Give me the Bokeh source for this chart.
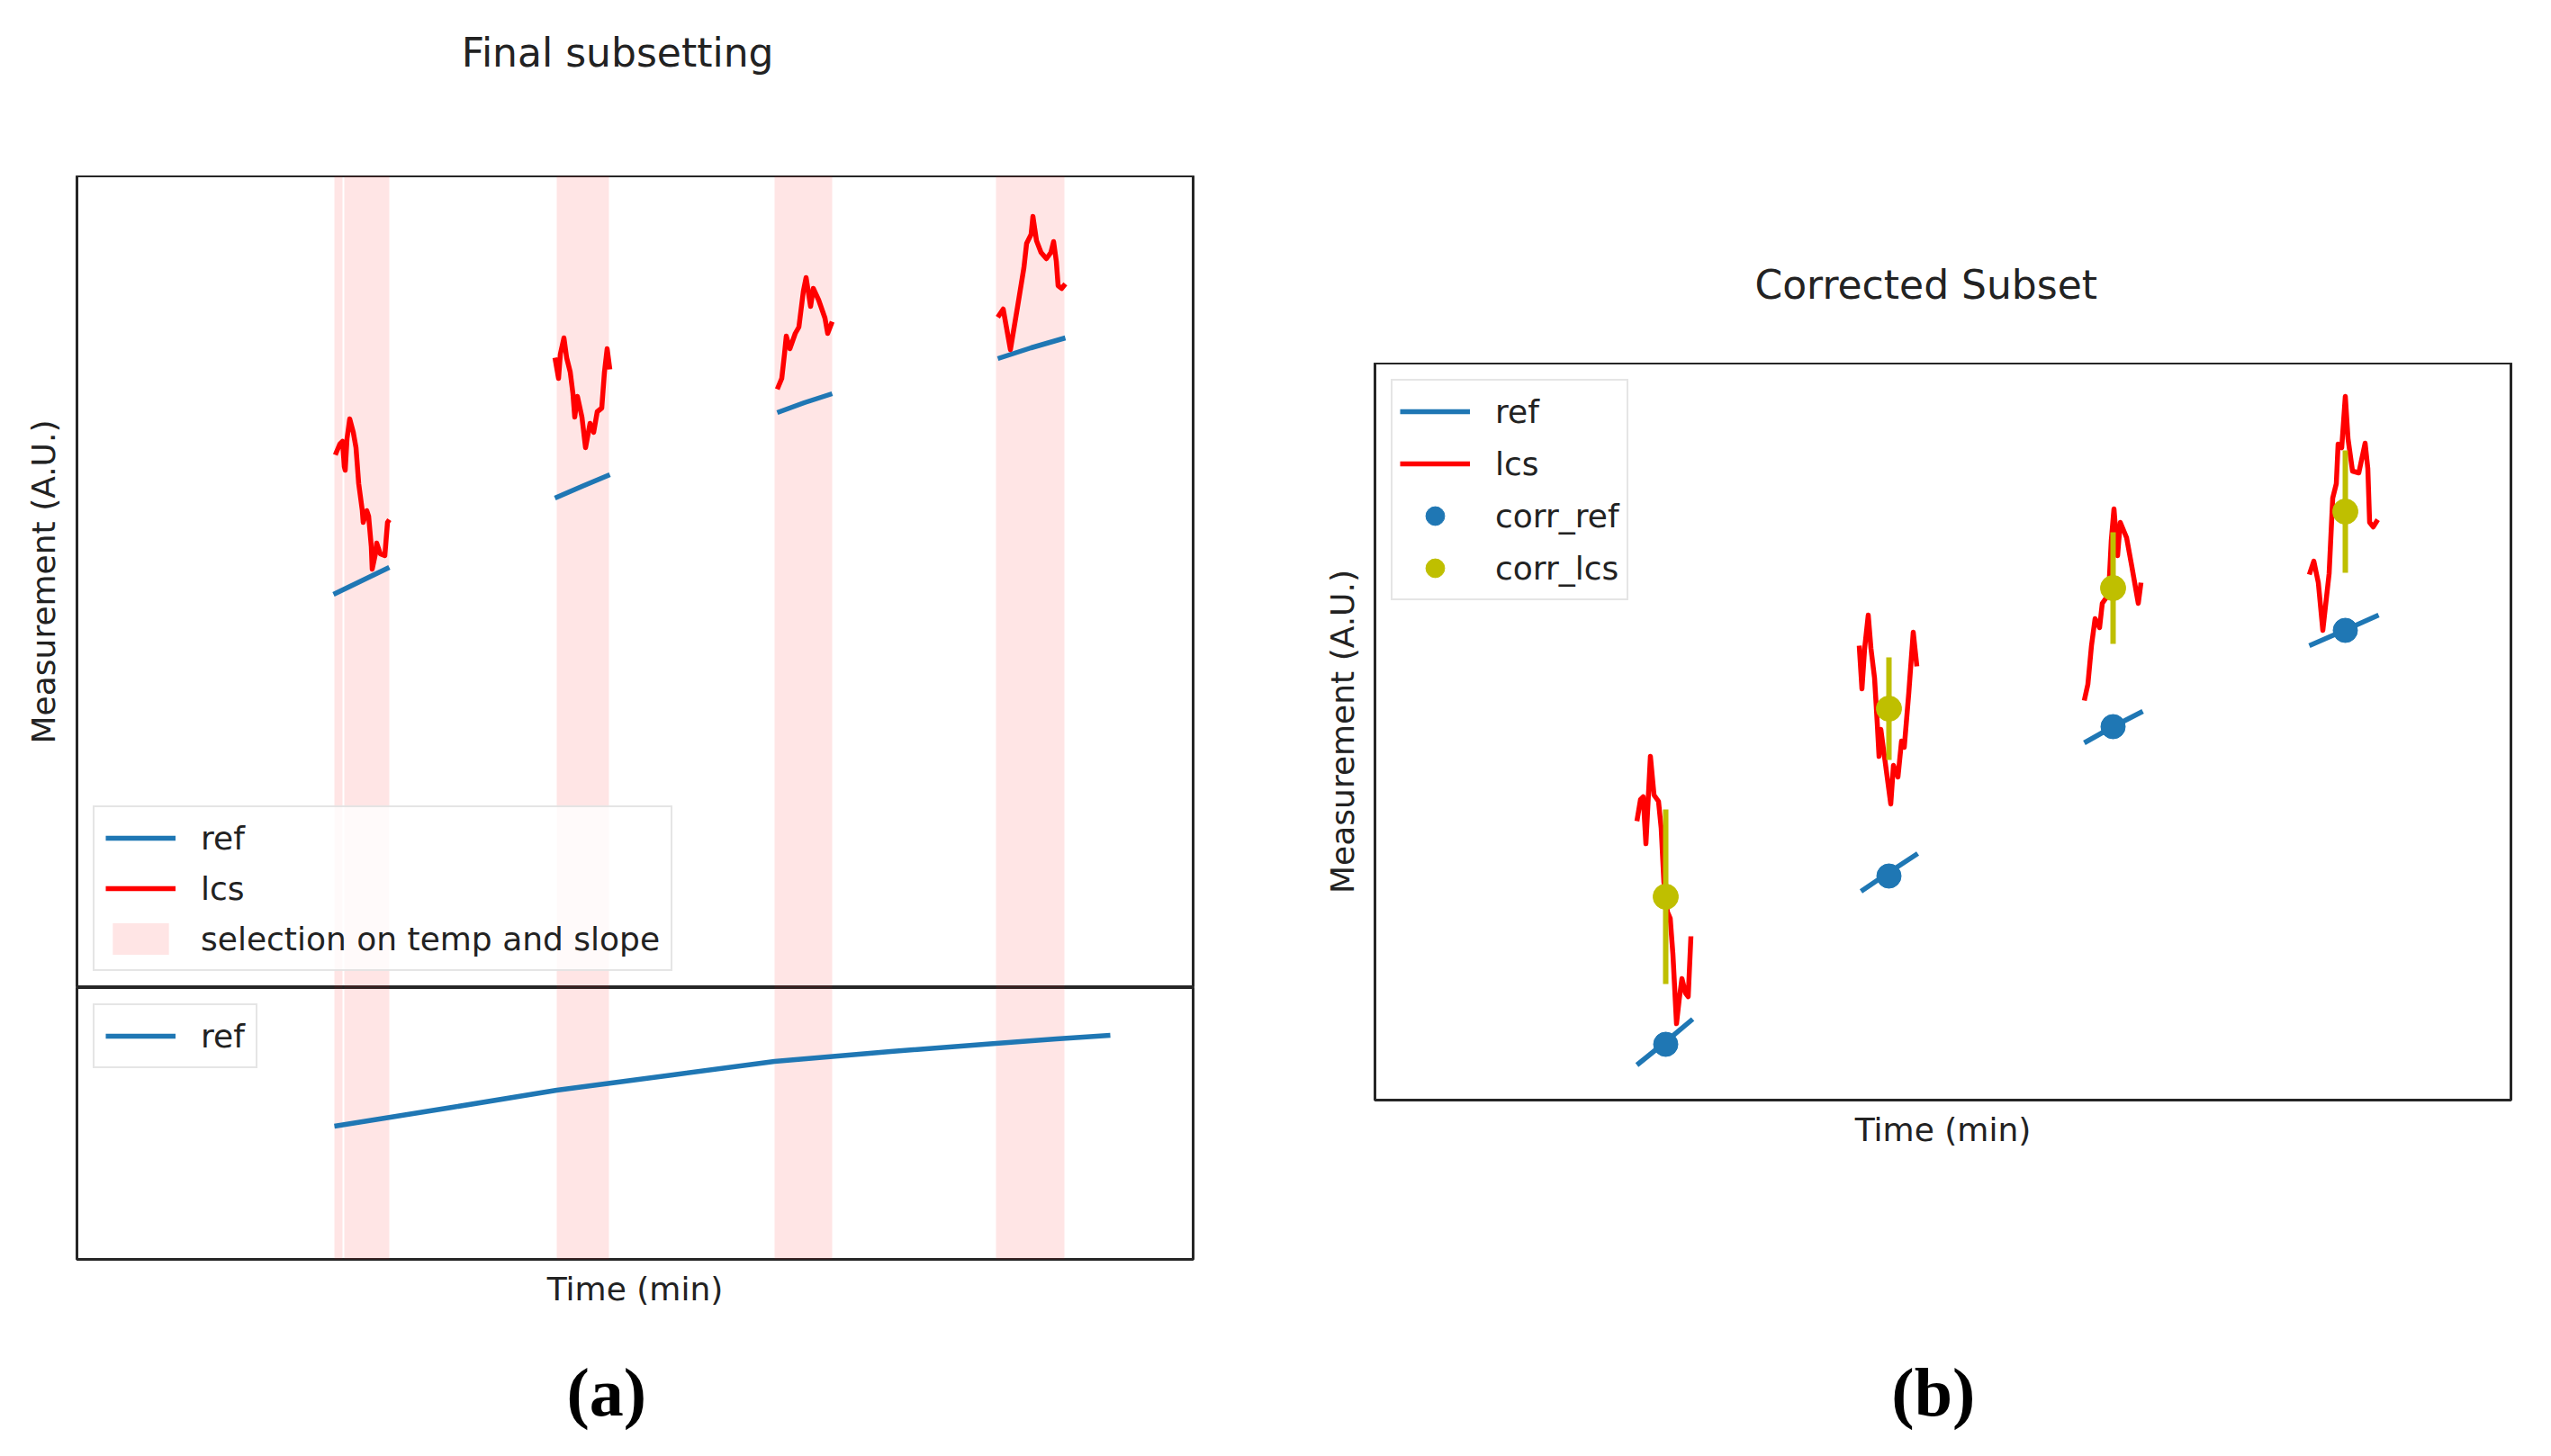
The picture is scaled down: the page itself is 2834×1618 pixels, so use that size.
from bokeh.plotting import figure
from bokeh.models import Legend, LegendItem, Label, Range1d
from bokeh.layouts import row, column
from bokeh.embed import file_html
from bokeh.resources import INLINE

# ---------------- data ----------------
# Panel (a): "Final subsetting"
a_time_range = (0, 1240)        # Time (min)
a_meas_range = (0, 902)         # Measurement (A.U.), upper axes
a_ref_range = (0, 302)          # lower axes (full ref series)

sel_start = [286, 297, 533, 775, 1021]
sel_end = [295, 347, 591, 839, 1097]

a_lcs_t = [
    [287, 292, 295, 297, 298, 300, 303, 307, 310, 313, 317, 318, 322, 324, 327, 328, 332, 333, 337, 342, 345, 347],
    [531, 535, 537, 541, 544, 548, 551, 553, 556, 561, 565, 570, 574, 578, 583, 586, 589, 592],
    [778, 783, 786, 788, 792, 798, 802, 807, 810, 815, 818, 824, 831, 834, 839],
    [1023, 1029, 1037, 1045, 1052, 1055, 1060, 1062, 1066, 1071, 1077, 1082, 1085, 1088, 1090, 1094, 1098],
]
a_lcs_v = [
    [592, 604, 607, 579, 575, 610, 632, 617, 600, 560, 530, 517, 530, 524, 490, 465, 484, 494, 482, 480, 517, 520],
    [700, 677, 704, 722, 700, 684, 660, 634, 657, 634, 600, 627, 617, 640, 644, 684, 710, 687],
    [665, 677, 704, 724, 710, 727, 734, 774, 789, 757, 777, 764, 744, 727, 740],
    [745, 754, 709, 757, 800, 827, 837, 857, 830, 817, 810, 817, 829, 807, 780, 777, 782],
]
a_ref_t = [[285, 316, 347], [531, 561, 592], [778, 808, 839], [1023, 1060, 1098]]
a_ref_v = [[437, 452, 467], [544, 557, 570], [639, 650, 660], [699, 711, 722]]

ref_full_t = [286, 417, 533, 662, 775, 904, 1021, 1088, 1148]
ref_full_v = [148, 169, 188, 205, 220, 231, 240, 245, 249]

# Panel (b): "Corrected Subset"
b_time_range = (0, 1262)
b_meas_range = (0, 819)

b_lcs_t = [
    [291, 295, 298, 301, 306, 310, 315, 318, 321, 325, 328, 331, 335, 338, 341, 345, 348, 351],
    [538, 541, 544, 548, 551, 555, 558, 560, 562, 566, 573, 576, 581, 585, 588, 593, 598, 602],
    [788, 792, 796, 800, 805, 808, 815, 818, 821, 825, 828, 835, 841, 848, 851],
    [1038, 1043, 1048, 1053, 1060, 1064, 1068, 1070, 1074, 1078, 1081, 1086, 1093, 1100, 1103, 1105, 1109, 1114],
]
b_lcs_v = [
    [310, 334, 337, 285, 382, 339, 332, 302, 242, 209, 202, 162, 85, 112, 135, 119, 115, 182],
    [505, 457, 502, 539, 502, 469, 419, 382, 412, 382, 329, 372, 359, 399, 392, 452, 520, 482],
    [444, 462, 505, 535, 525, 552, 562, 622, 657, 605, 642, 625, 592, 552, 575],
    [584, 599, 575, 522, 585, 669, 685, 729, 725, 782, 735, 699, 697, 730, 702, 642, 637, 645],
]
b_ref_t = [[291, 322, 353], [540, 571, 603], [788, 820, 853], [1038, 1077, 1115]]
b_ref_v = [[39, 64, 90], [232, 253, 274], [397, 415, 432], [505, 522, 539]]

corr_t = [323, 571, 820, 1078]
corr_ref = [62, 249, 415, 522]
corr_lcs = [226, 435, 569, 654]
corr_lcs_std = [97, 57, 62, 68]

# ---------------- style ----------------
BLUE = "#1f77b4"
RED = "#ff0000"
OLIVE = "#bfbf00"
TXT = "#222222"
FONT = "DejaVu Sans"
LW = 5.5


def base_style(p):
    p.outline_line_color = "#262626"
    p.outline_line_width = 3
    p.grid.visible = False
    p.background_fill_color = "white"
    p.border_fill_color = "white"


def style_axis(ax, label, standoff):
    ax.ticker = []
    ax.axis_line_color = None
    ax.major_tick_line_color = None
    ax.minor_tick_line_color = None
    ax.major_tick_out = 0
    ax.major_tick_in = 0
    ax.minor_tick_out = 0
    ax.major_label_standoff = 0
    ax.axis_label = label
    ax.axis_label_standoff = standoff
    ax.axis_label_text_font = FONT
    ax.axis_label_text_font_size = "36px"
    ax.axis_label_text_font_style = "normal"
    ax.axis_label_text_color = TXT


def text_strip(width, height):
    """A bare strip (no axes, no outline) used to hold titles / panel tags."""
    p = figure(width=width, height=height, output_backend="svg", toolbar_location=None,
               x_range=Range1d(0, width), y_range=Range1d(0, height),
               x_axis_location=None, y_axis_location=None, min_border=0)
    p.grid.visible = False
    p.outline_line_color = None
    p.background_fill_color = "white"
    p.border_fill_color = "white"
    return p


def title_label(text, x, y):
    return Label(x=x, y=y, text=text, text_align="center", text_baseline="middle",
                 text_font=FONT, text_font_size="44px", text_color=TXT)


def panel_label(text, x, y):
    return Label(x=x, y=y, text=text, text_align="center", text_baseline="middle",
                 text_font="Liberation Serif", text_font_style="bold",
                 text_font_size="76px", text_color="black")


def make_legend(items, location, glyph_height=44, spacing=12, padding=12):
    return Legend(
        items=items, location=location, margin=18, padding=padding, spacing=spacing,
        glyph_width=78, glyph_height=glyph_height, label_standoff=28,
        label_text_font=FONT, label_text_font_size="36px", label_text_color=TXT,
        border_line_color="#cccccc", border_line_width=2,
        background_fill_color="white", background_fill_alpha=0.8,
    )


# ---------------- panel (a) ----------------
head_a = text_strip(1408, 195)
head_a.add_layout(title_label("Final subsetting", 682, 137))

top_a = figure(
    width=1408, height=902, output_backend="svg", toolbar_location=None,
    x_range=Range1d(*a_time_range), y_range=Range1d(*a_meas_range),
    x_axis_location=None,
    min_border_left=85, min_border_right=83, min_border_top=0, min_border_bottom=0,
)
base_style(top_a)
style_axis(top_a.yaxis[0], "Measurement (A.U.)", 17)

r_sel = top_a.quad(left=sel_start, right=sel_end,
                   bottom=[a_meas_range[0]] * len(sel_start), top=[a_meas_range[1]] * len(sel_start),
                   fill_color=RED, fill_alpha=0.1, line_color=None)
r_ref = top_a.multi_line(a_ref_t, a_ref_v, line_color=BLUE, line_width=LW, line_join="round")
r_lcs = top_a.multi_line(a_lcs_t, a_lcs_v, line_color=RED, line_width=LW, line_join="round")

top_a.add_layout(make_legend([
    LegendItem(label="ref", renderers=[r_ref]),
    LegendItem(label="lcs", renderers=[r_lcs]),
    LegendItem(label="selection on temp and slope", renderers=[r_sel]),
], "bottom_left"))

bot_a = figure(
    width=1408, height=372, output_backend="svg", toolbar_location=None,
    x_range=top_a.x_range, y_range=Range1d(*a_ref_range),
    y_axis_location=None,
    min_border_left=85, min_border_right=83, min_border_top=0, min_border_bottom=70,
)
base_style(bot_a)
style_axis(bot_a.xaxis[0], "Time (min)", 12)
bot_a.quad(left=sel_start, right=sel_end,
           bottom=[a_ref_range[0]] * len(sel_start), top=[a_ref_range[1]] * len(sel_start),
           fill_color=RED, fill_alpha=0.1, line_color=None)
r_ref2 = bot_a.line(ref_full_t, ref_full_v, line_color=BLUE, line_width=LW, line_join="round")
bot_a.add_layout(make_legend([LegendItem(label="ref", renderers=[r_ref2])], "top_left"))

foot_a = text_strip(1408, 135)
foot_a.add_layout(panel_label("(a)", 668, 58))

# ---------------- panel (b) ----------------
head_b = text_strip(1414, 403)
head_b.add_layout(title_label("Corrected Subset", 686, 87))

fig_b = figure(
    width=1414, height=889, output_backend="svg", toolbar_location=None,
    x_range=Range1d(*b_time_range), y_range=Range1d(*b_meas_range),
    min_border_left=119, min_border_right=33, min_border_top=0, min_border_bottom=70,
)
base_style(fig_b)
style_axis(fig_b.xaxis[0], "Time (min)", 12)
style_axis(fig_b.yaxis[0], "Measurement (A.U.)", 16)

rb_ref = fig_b.multi_line(b_ref_t, b_ref_v, line_color=BLUE, line_width=LW, line_join="round")
rb_lcs = fig_b.multi_line(b_lcs_t, b_lcs_v, line_color=RED, line_width=LW, line_join="round")
rb_cref = fig_b.scatter(corr_t, corr_ref, marker="circle", size=27, fill_color=BLUE, line_color=BLUE)
err_lo = [m - s for m, s in zip(corr_lcs, corr_lcs_std)]
err_hi = [m + s for m, s in zip(corr_lcs, corr_lcs_std)]
fig_b.segment(x0=corr_t, y0=err_lo, x1=corr_t, y1=err_hi, line_color=OLIVE, line_width=6)
rb_clcs = fig_b.scatter(corr_t, corr_lcs, marker="circle", size=28, fill_color=OLIVE, line_color=OLIVE)

legend_b = make_legend([
    LegendItem(label="ref", renderers=[rb_ref]),
    LegendItem(label="lcs", renderers=[rb_lcs]),
    LegendItem(label="corr_ref", renderers=[rb_cref]),
    LegendItem(label="corr_lcs", renderers=[rb_clcs]),
], "top_left", glyph_height=52, spacing=6, padding=8)
fig_b.add_layout(legend_b)

foot_b = text_strip(1414, 312)
foot_b.add_layout(panel_label("(b)", 695, 58))

layout = row(column(head_a, top_a, bot_a, foot_a), column(head_b, fig_b, foot_b))
open("out.html", "w").write(file_html(layout, INLINE))
